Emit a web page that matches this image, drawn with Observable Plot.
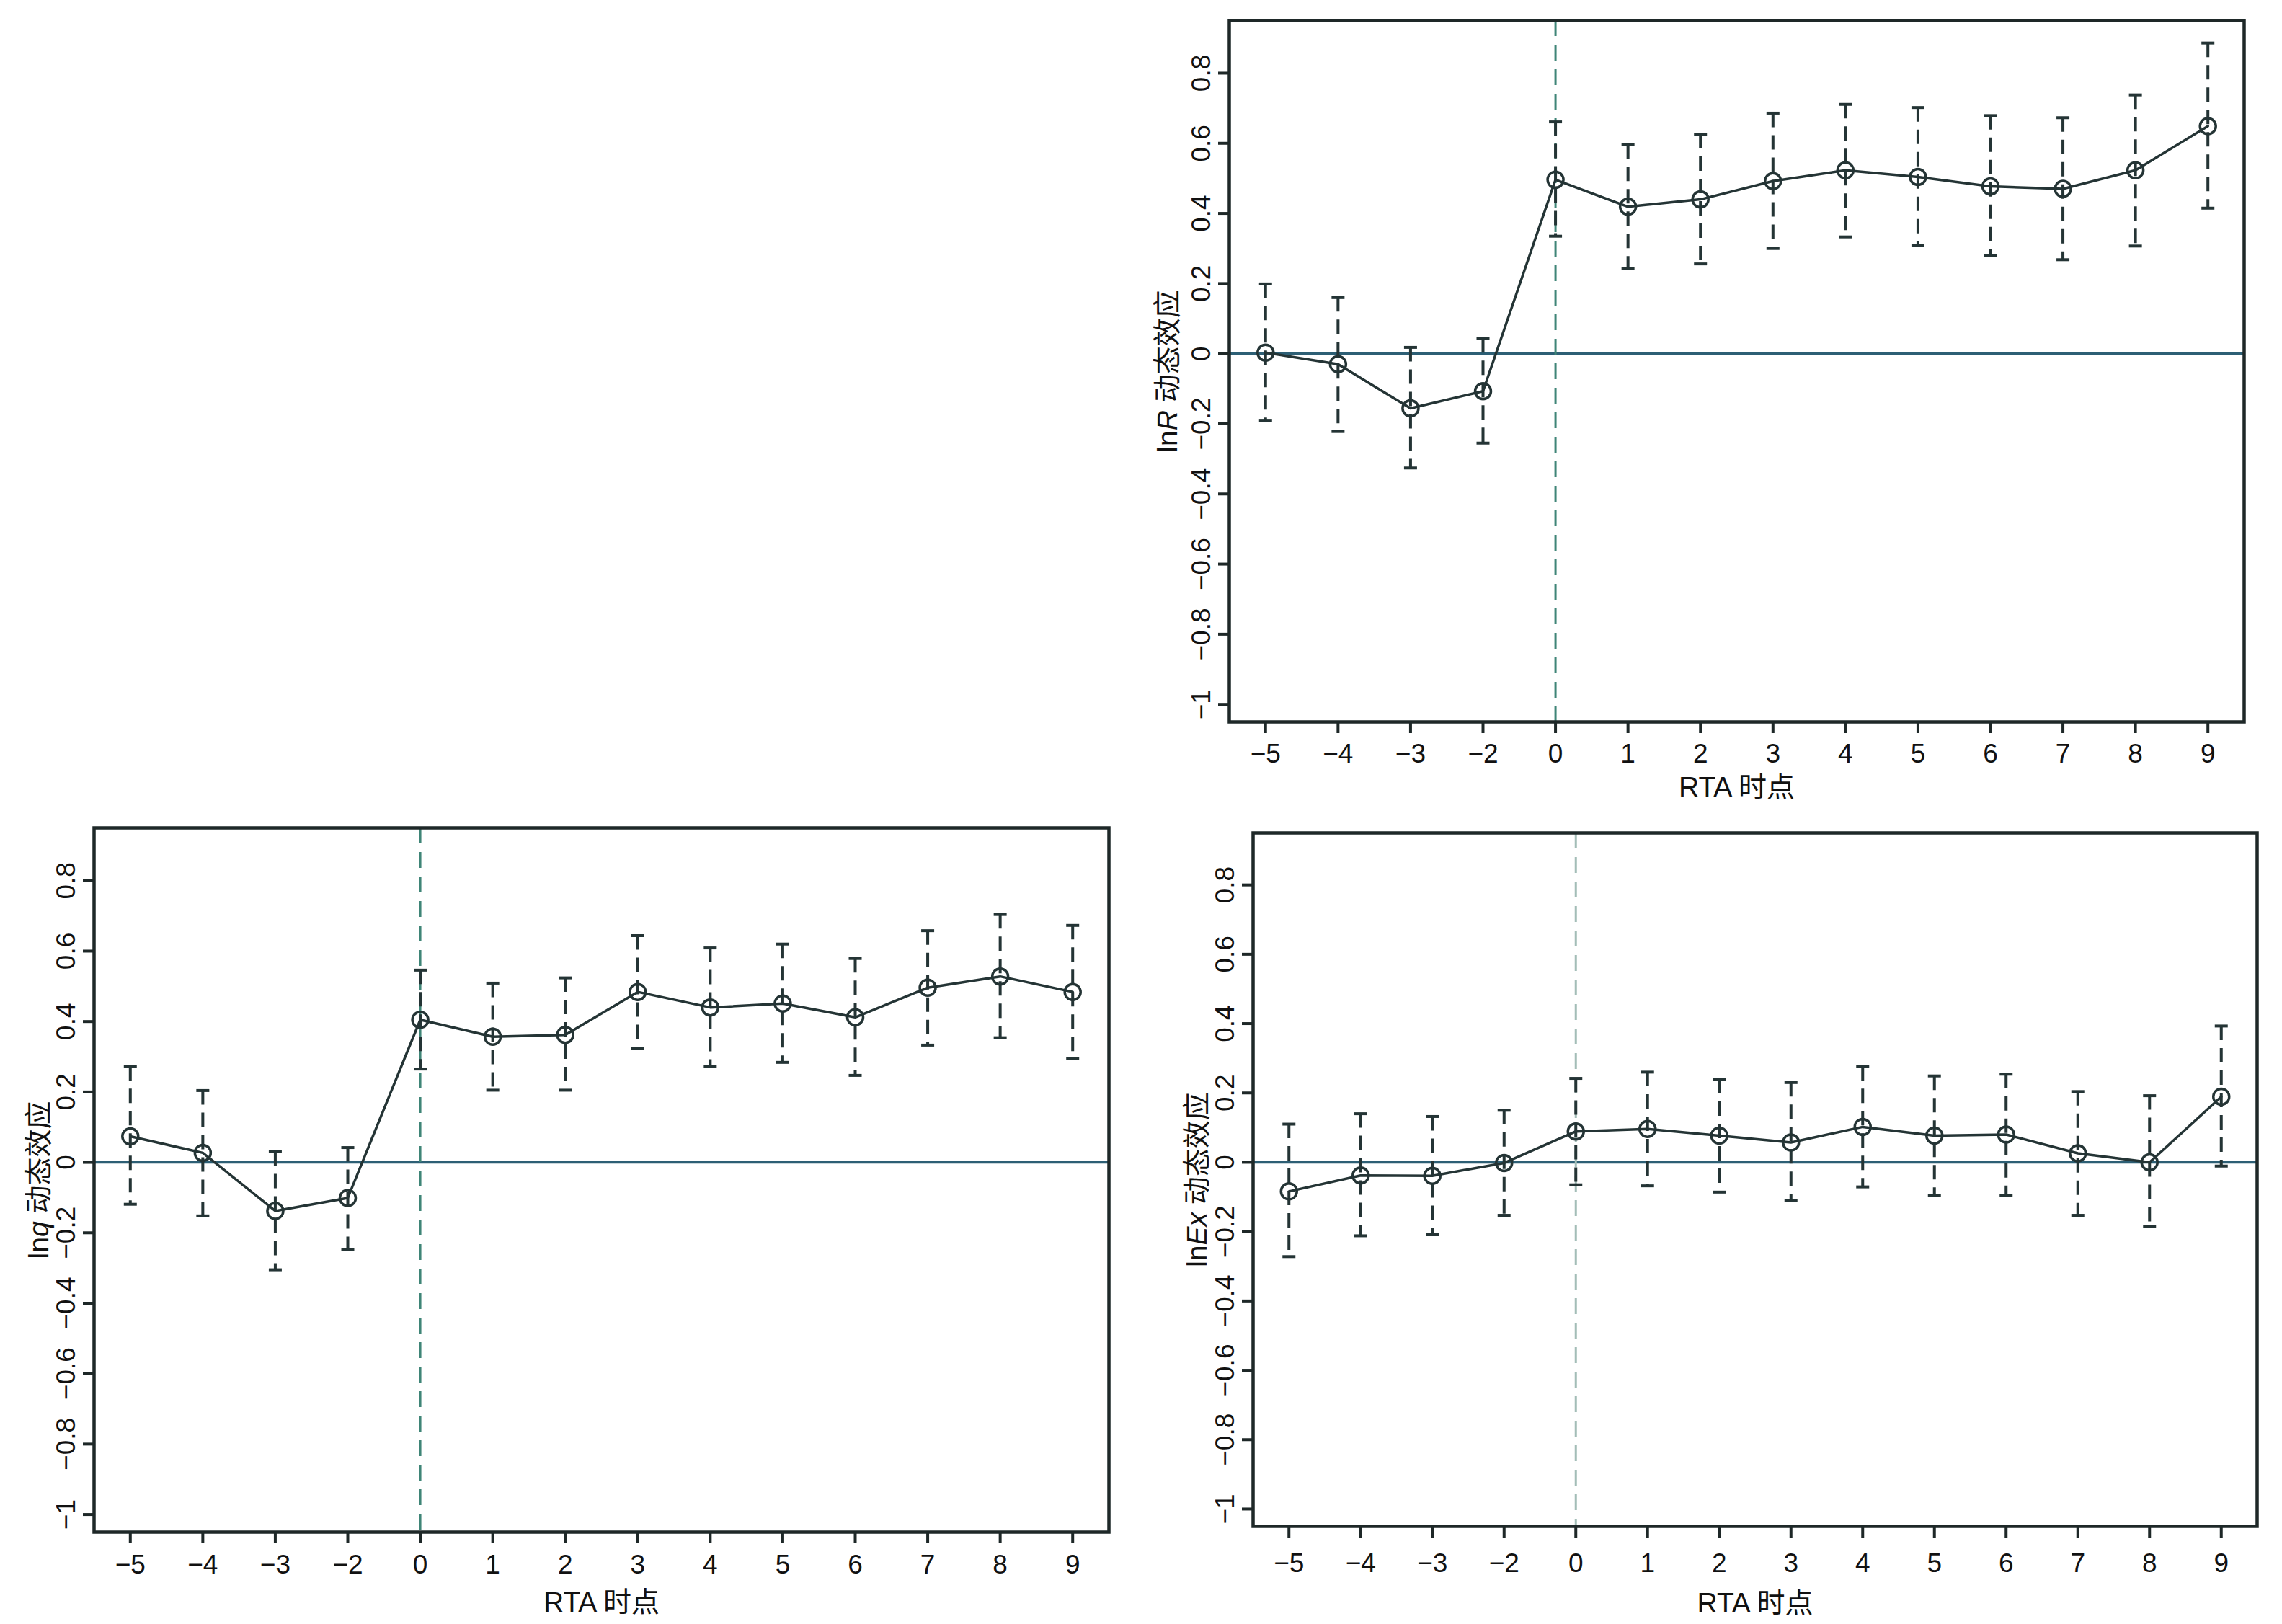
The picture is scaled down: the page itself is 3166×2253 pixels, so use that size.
<!DOCTYPE html>
<html>
<head>
<meta charset="utf-8">
<script src="https://cdn.jsdelivr.net/npm/d3@7"></script>
<script src="https://cdn.jsdelivr.net/npm/@observablehq/plot@0.6"></script>
<style>
  html, body { margin: 0; padding: 0; background: #ffffff; }
  #wrap { position: relative; width: 3166px; height: 2253px; background: #ffffff; overflow: hidden; }
  .panel { position: absolute; }
</style>
</head>
<body>
<div id="wrap"></div>
<script>
// ---- categories & tick labels ----
const periods = [-5, -4, -3, -2, 0, 1, 2, 3, 4, 5, 6, 7, 8, 9];
const xTickLabels = ["−5", "−4", "−3", "−2", "0", "1", "2", "3", "4", "5", "6", "7", "8", "9"];
const yTicks = [-1, -0.8, -0.6, -0.4, -0.2, 0, 0.2, 0.4, 0.6, 0.8];
const yTickLabels = ["−1", "−0.8", "−0.6", "−0.4", "−0.2", "0", "0.2", "0.4", "0.6", "0.8"];
const xAxisTitle = "RTA 时点";
const yTitleSuffix = " 动态效应";

// ---- lnR ----
const lnR_est = [0.003, -0.030, -0.156, -0.107, 0.496, 0.419, 0.440, 0.492, 0.523, 0.504, 0.477, 0.470, 0.523, 0.649];
const lnR_hi  = [0.199, 0.160, 0.018, 0.043, 0.661, 0.596, 0.625, 0.686, 0.711, 0.702, 0.679, 0.673, 0.738, 0.886];
const lnR_lo  = [-0.190, -0.222, -0.326, -0.255, 0.335, 0.243, 0.256, 0.300, 0.333, 0.308, 0.279, 0.268, 0.307, 0.415];

// ---- lnq ----
const lnq_est = [0.074, 0.027, -0.138, -0.101, 0.405, 0.357, 0.362, 0.484, 0.440, 0.451, 0.412, 0.496, 0.528, 0.484];
const lnq_hi  = [0.272, 0.204, 0.030, 0.042, 0.546, 0.509, 0.524, 0.644, 0.609, 0.620, 0.579, 0.658, 0.704, 0.673];
const lnq_lo  = [-0.119, -0.152, -0.305, -0.247, 0.265, 0.205, 0.205, 0.324, 0.272, 0.284, 0.247, 0.333, 0.354, 0.296];

// ---- lnEx ----
const lnEx_est = [-0.084, -0.038, -0.039, -0.002, 0.089, 0.096, 0.077, 0.057, 0.102, 0.077, 0.080, 0.026, 0.000, 0.189];
const lnEx_hi  = [0.110, 0.140, 0.132, 0.150, 0.242, 0.260, 0.239, 0.230, 0.276, 0.249, 0.254, 0.204, 0.192, 0.393];
const lnEx_lo  = [-0.272, -0.212, -0.209, -0.153, -0.065, -0.068, -0.086, -0.111, -0.071, -0.096, -0.096, -0.153, -0.186, -0.011];

const DARK = "#243435";
const FRAME = "#1e2828";
const ZERO = "#2d5f75";
const FONT = "'Liberation Sans', Arial, 'Noto Sans CJK SC', sans-serif";

const capSymbol = { draw(ctx) { ctx.moveTo(-9, 0); ctx.lineTo(9, 0); } };

function makePanel(cfg) {
  const rows = periods.map((t, i) => ({ t, est: cfg.est[i], lo: cfg.lo[i], hi: cfg.hi[i] }));
  const label = "ln" + cfg.varName + yTitleSuffix;
  const svg = Plot.plot({
    width: cfg.width,
    height: cfg.height,
    marginLeft: cfg.ml, marginRight: cfg.mr, marginTop: cfg.mt, marginBottom: cfg.mb,
    style: { fontFamily: FONT, fontSize: "37px", background: "transparent", color: "#111", overflow: "visible" },
    x: { type: "point", domain: periods, padding: 0.5, round: false },
    y: { domain: [-1.05, 0.95] },
    marks: [
      Plot.ruleY([0], { stroke: ZERO, strokeWidth: 3.5 }),
      Plot.ruleX([0], { stroke: cfg.vcolor, strokeWidth: 3, strokeDasharray: "22,12" }),
      Plot.ruleX(rows, { x: "t", y1: "hi", y2: "lo", stroke: DARK, strokeWidth: 4, strokeDasharray: "20,11" }),
      Plot.dot(rows, { x: "t", y: "hi", symbol: capSymbol, stroke: DARK, strokeWidth: 4, fill: "none" }),
      Plot.dot(rows, { x: "t", y: "lo", symbol: capSymbol, stroke: DARK, strokeWidth: 4, fill: "none" }),
      Plot.line(rows, { x: "t", y: "est", stroke: DARK, strokeWidth: 3.5 }),
      Plot.dot(rows, { x: "t", y: "est", r: 11, stroke: DARK, strokeWidth: 3.5, fill: "none" }),
      Plot.frame({ stroke: FRAME, strokeWidth: 4.5 }),
      Plot.axisX({
        anchor: "bottom", tickSize: 16, tickPadding: cfg.xpad, fontSize: 37,
        tickFormat: (d) => xTickLabels[periods.indexOf(d)],
        stroke: FRAME, strokeWidth: 4, fill: "#111",
        label: xAxisTitle, labelAnchor: "center", labelOffset: cfg.xlo, labelArrow: "none"
      }),
      Plot.axisY({
        anchor: "left", ticks: yTicks, tickSize: 15, tickPadding: 12, tickRotate: -90, fontSize: 37,
        tickFormat: (d) => yTickLabels[yTicks.indexOf(d)],
        stroke: FRAME, strokeWidth: 4, fill: "#111",
        label: label, labelAnchor: "center", labelOffset: cfg.ylo, labelArrow: "none"
      })
    ]
  });

  // Axis titles: slightly larger, with the variable name in italics
  svg.querySelectorAll("text").forEach((el) => {
    const txt = el.textContent.trim();
    if (txt.startsWith("ln" + cfg.varName) && txt.includes("动态效应")) {
      while (el.firstChild) el.removeChild(el.firstChild);
      const ns = "http://www.w3.org/2000/svg";
      const a = document.createElementNS(ns, "tspan"); a.textContent = "ln";
      const b = document.createElementNS(ns, "tspan"); b.textContent = cfg.varName; b.setAttribute("font-style", "italic");
      const c = document.createElementNS(ns, "tspan"); c.textContent = yTitleSuffix;
      el.appendChild(a); el.appendChild(b); el.appendChild(c);
      el.setAttribute("font-size", "39");
    } else if (txt === xAxisTitle) {
      el.setAttribute("font-size", "39");
    }
  });

  const div = document.createElement("div");
  div.className = "panel";
  div.style.left = cfg.left + "px";
  div.style.top = cfg.top + "px";
  div.appendChild(svg);
  document.getElementById("wrap").appendChild(div);
}

makePanel({ varName: "R", est: lnR_est, lo: lnR_lo, hi: lnR_hi,
  left: 1580, top: 0, width: 1586, height: 1130, ml: 125, mr: 53, mt: 28, mb: 129,
  vcolor: "#3f8577", xpad: 14, xlo: 103, ylo: 100 });

makePanel({ varName: "q", est: lnq_est, lo: lnq_lo, hi: lnq_hi,
  left: 0, top: 1130, width: 1580, height: 1123, ml: 130, mr: 42, mt: 18, mb: 128,
  vcolor: "#3f8577", xpad: 15, xlo: 110, ylo: 91 });

makePanel({ varName: "Ex", est: lnEx_est, lo: lnEx_lo, hi: lnEx_hi,
  left: 1580, top: 1130, width: 1586, height: 1123, ml: 158, mr: 35, mt: 25, mb: 136,
  vcolor: "#a3bdb7", xpad: 21, xlo: 119, ylo: 92 });
</script>
</body>
</html>
